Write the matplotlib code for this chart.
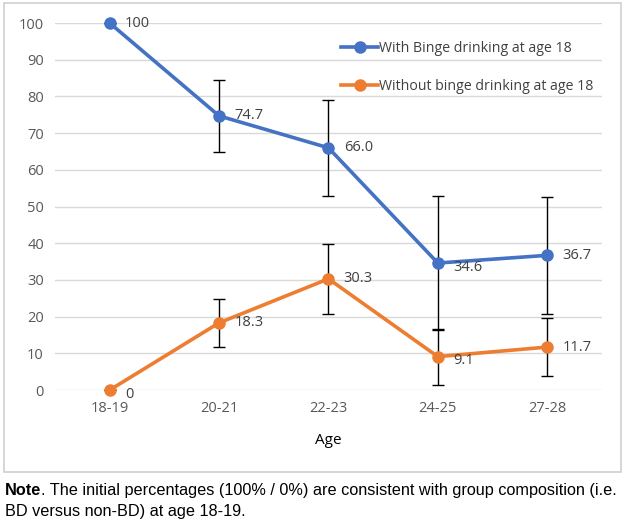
import matplotlib.pyplot as plt
from matplotlib.lines import Line2D
from matplotlib.patches import Rectangle

ages = ["18-19", "20-21", "22-23", "24-25", "27-28"]
bd = [100, 74.7, 66.0, 34.6, 36.7]
bd_err = [0, 9.8, 13.0, 18.3, 16.0]
bd_labels = ["100", "74.7", "66.0", "34.6", "36.7"]
nobd = [0, 18.3, 30.3, 9.1, 11.7]
nobd_err = [0, 6.6, 9.5, 7.6, 8.0]
nobd_labels = ["0", "18.3", "30.3", "9.1", "11.7"]

blue = "#4472C4"
orange = "#ED7D31"
grey = "#595959"

plt.rcParams['font.family'] = ['Open Sans', 'DejaVu Sans']

fig = plt.figure(figsize=(6.25, 5.24), dpi=100)
ax = fig.add_axes([0.088, 0.2557, 0.875, 0.7003])

x = list(range(len(ages)))
for vals, errs, col in [(bd, bd_err, blue), (nobd, nobd_err, orange)]:
    ax.errorbar(x, vals, yerr=errs, fmt='none', ecolor='black', elinewidth=1,
                capsize=4, capthick=1, zorder=2)
    ax.plot(x, vals, color=col, lw=2.6, marker='o', ms=8, zorder=3, clip_on=False)

for i in x:
    dy = -3 if i == 3 else 0
    ax.annotate(bd_labels[i], (i, bd[i]), xytext=(11, dy), textcoords='offset points',
                va='center', ha='left', fontsize=10.5, color='#404040', zorder=4)
    dy = -3 if i in (0, 3) else 0
    ax.annotate(nobd_labels[i], (i, nobd[i]), xytext=(11, dy), textcoords='offset points',
                va='center', ha='left', fontsize=10.5, color='#404040', zorder=4)

ax.set_xlim(-0.5, 4.5)
ax.set_ylim(0, 100)
ax.set_yticks(range(0, 101, 10))
ax.set_xticks(x)
ax.set_xticklabels(ages)
ax.grid(axis='y', color='#D9D9D9', lw=1)
ax.set_axisbelow(True)
for s in ax.spines.values():
    s.set_visible(False)
ax.tick_params(length=0, labelsize=10.5, colors=grey, pad=8)
ax.set_xlabel("Age", fontsize=11, color='black', labelpad=12)

handles = [Line2D([], [], color=blue, lw=2.6, marker='o', ms=8),
           Line2D([], [], color=orange, lw=2.6, marker='o', ms=8)]
ax.legend(handles, ["With Binge drinking at age 18", "Without binge drinking at age 18"],
          loc='upper left', bbox_to_anchor=(0.5, 0.985), frameon=False,
          fontsize=10.2, labelspacing=1.6, handlelength=2.6, handletextpad=0.1,
          labelcolor='#404040')

fig.patches.append(Rectangle((4 / 625, 1 - 472 / 524), 617 / 625, 469 / 524,
                             transform=fig.transFigure, fill=False,
                             edgecolor='#D0D0D0', lw=1.2))

note = fig.text(0.008, 1 - 495 / 524, "Note", fontsize=11.7, fontweight='bold',
                family='Liberation Sans', va='baseline')
fig.text(0.008, 1 - 516 / 524,
         "BD versus non-BD) at age 18-19.", fontsize=11.7,
         family='Liberation Sans', va='baseline')
plt.annotate(". The initial percentages (100% / 0%) are consistent with group composition (i.e.",
             xy=(1, 0), xycoords=note, va='bottom', fontsize=11.7,
             family='Liberation Sans', annotation_clip=False)

fig.savefig("out.png", dpi=100)
